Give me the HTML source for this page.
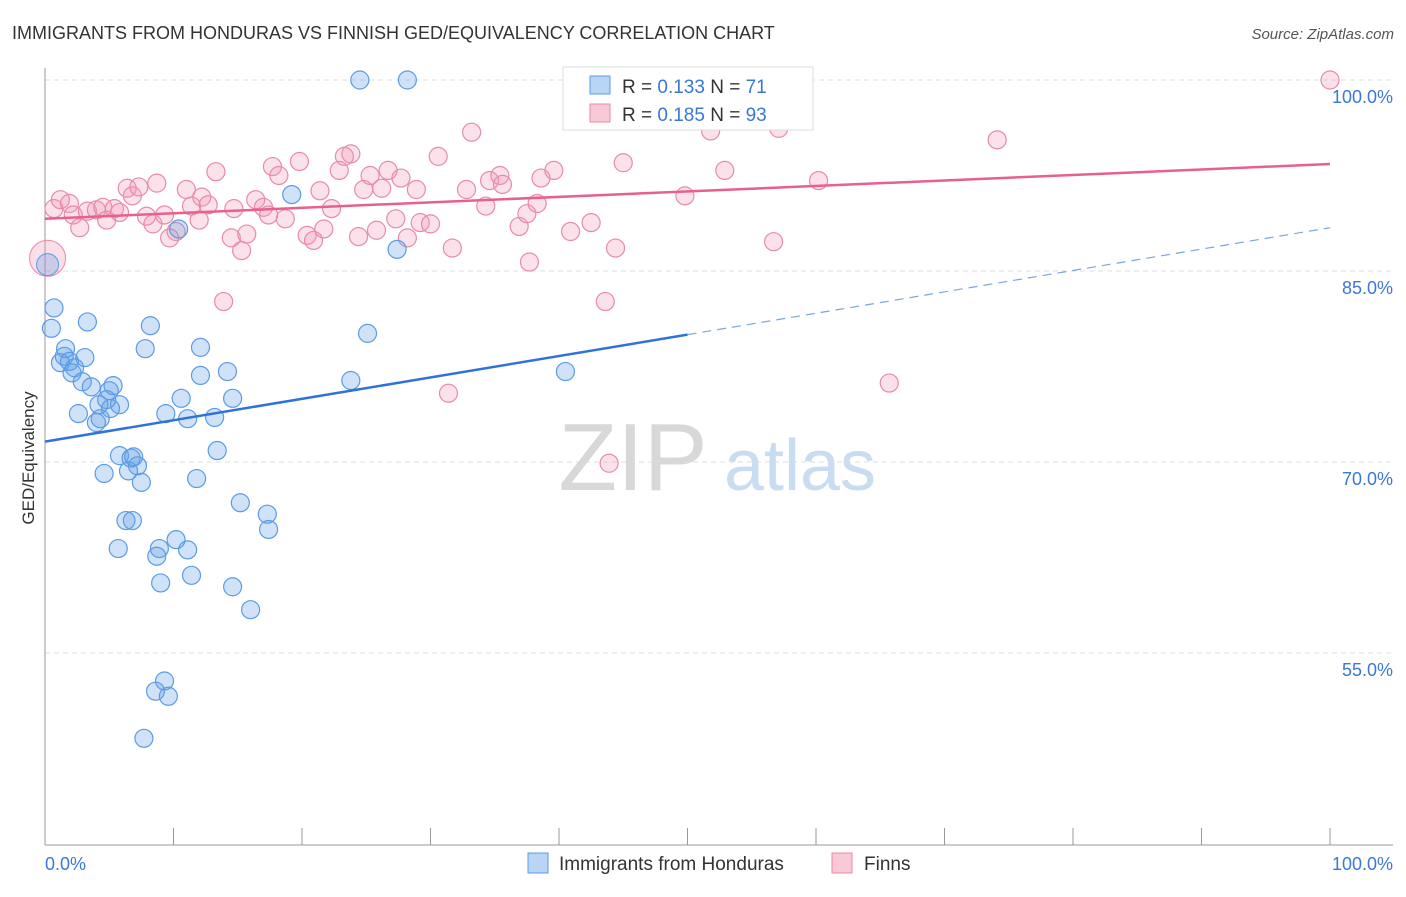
<!DOCTYPE html>
<html><head><meta charset="utf-8"><style>
body{margin:0;background:#fff;font-family:"Liberation Sans",sans-serif;}
svg text{font-family:"Liberation Sans",sans-serif;}
</style></head><body>
<svg id="c" width="1406" height="892" xmlns="http://www.w3.org/2000/svg">
<text x="12" y="39" font-size="18" fill="#333">IMMIGRANTS FROM HONDURAS VS FINNISH GED/EQUIVALENCY CORRELATION CHART</text>
<text x="1394" y="39" font-size="15" fill="#555" text-anchor="end" font-style="italic">Source: ZipAtlas.com</text>
<text x="0" y="0" transform="translate(34,458) rotate(-90)" font-size="17" fill="#333" text-anchor="middle">GED/Equivalency</text>
<g><text x="633" y="490" font-size="96" fill="#d8d8d8" text-anchor="middle" font-family="Liberation Serif">ZIP</text><text x="800" y="490" font-size="72" fill="#c8dcf2" text-anchor="middle">atlas</text></g>
<g id="grid"></g><g id="axes"></g><g id="pts"></g><g id="lines"></g>
<g>
<rect x="563" y="67" width="250" height="63" fill="#fff" stroke="#ddd"/>
<rect x="590" y="76" width="20" height="18" fill="#b9d4f5" stroke="#5b9be6"/>
<rect x="590" y="104" width="20" height="18" fill="#f9c9d8" stroke="#e88aa8"/>
<text x="622" y="93" font-size="19" fill="#333">R = <tspan fill="#3a78d8">0.133</tspan>   N = <tspan fill="#3a78d8">71</tspan></text>
<text x="622" y="121" font-size="19" fill="#333">R = <tspan fill="#3a78d8">0.185</tspan>   N = <tspan fill="#3a78d8">93</tspan></text>
</g>
<g>
<rect x="528" y="853" width="20" height="20" fill="#b9d4f5" stroke="#5b9be6"/>
<text x="559" y="870" font-size="19" fill="#333">Immigrants from Honduras</text>
<rect x="832" y="853" width="20" height="20" fill="#f9c9d8" stroke="#e88aa8"/>
<text x="864" y="870" font-size="19" fill="#333">Finns</text>
</g>
</svg>
<script>
const yTicks=[100,85,70,55];
const yTickLabels=["100.0%","85.0%","70.0%","55.0%"];
const xTickLabels=["0.0%","100.0%"];
const blueX=[24.5,28.2,19.2,10.4,27.4,0.7,0.5,3.3,8.2,25.1,7.8,12.1,1.6,3.1,1.5,1.2,1.9,2.3,2.1,14.2,12.1,23.8,40.5,2.9,3.6,5.3,5.0,10.6,14.6,4.8,5.8,4.2,5.1,9.4,2.6,11.1,13.2,4.3,4.0,13.4,5.8,6.7,6.9,7.2,6.5,4.6,11.8,7.5,15.2,17.3,6.3,6.8,17.4,10.2,8.9,11.1,5.7,8.7,11.4,9.0,14.6,16.0,9.3,8.6,9.6,7.7];
const blueY=[100,100,91.0,88.3,86.7,82.1,80.5,81.0,80.7,80.1,78.9,79.0,78.9,78.2,78.3,77.8,77.9,77.4,77.0,77.1,76.8,76.4,77.1,76.3,75.9,76.0,75.6,75.0,75.0,74.9,74.5,74.5,74.2,73.8,73.8,73.4,73.5,73.4,73.1,70.9,70.5,70.3,70.4,69.7,69.3,69.1,68.7,68.4,66.8,65.9,65.4,65.4,64.7,63.9,63.2,63.1,63.2,62.6,61.1,60.5,60.2,58.4,52.8,52.0,51.6,48.3];
const pinkX=[0.7,1.2,1.9,2.2,2.7,3.3,4.0,4.5,4.8,5.4,5.8,6.4,6.8,7.3,7.9,8.4,8.7,9.3,9.7,10.2,11.0,11.4,12.0,12.2,12.7,13.3,13.9,14.5,14.7,15.3,15.7,16.4,17.0,17.4,17.7,18.2,18.7,19.8,20.4,20.9,21.4,21.7,22.3,22.9,23.3,23.8,24.4,24.8,25.3,25.8,26.2,26.7,27.3,27.7,28.2,28.9,29.2,30.0,30.6,31.4,31.7,32.8,33.2,34.3,34.6,35.4,35.6,36.9,37.5,37.7,38.3,38.6,39.6,40.9,41.5,42.5,43.6,43.9,44.4,45.0,49.8,51.8,52.9,55.8,56.7,57.1,58.9,60.2,65.7,74.1,100];
const pinkY=[89.9,90.6,90.3,89.4,88.4,89.7,89.8,90.0,89.0,89.9,89.6,91.5,90.9,91.6,89.3,88.7,91.9,89.4,87.6,88.1,91.4,90.1,89.0,90.8,90.2,92.8,82.6,87.6,89.9,86.6,87.9,90.6,90.0,89.4,93.2,92.5,89.1,93.6,87.8,87.4,91.3,88.3,89.9,92.9,94.0,94.2,87.7,91.4,92.5,88.2,91.5,92.9,89.1,92.3,87.6,91.4,88.8,88.7,94.0,75.4,86.8,91.4,95.9,90.1,92.1,92.5,91.8,88.5,89.5,85.7,90.3,92.3,92.9,88.1,98.4,88.8,82.6,69.9,86.8,93.5,90.9,96.0,92.9,100,87.3,96.2,100,92.1,76.2,95.3,100];
const blueTrend=[71.6,88.4];
const pinkTrend=[89.1,93.4];
const NS="http://www.w3.org/2000/svg";
const sx=v=>45+v*12.85, sy=v=>80+(100-v)*12.733;
function mk(t,a,p){const e=document.createElementNS(NS,t);for(const k in a)e.setAttribute(k,a[k]);document.getElementById(p).appendChild(e);return e;}
yTicks.forEach((t,i)=>{
 const g=mk('line',{x1:45,x2:1393,y1:sy(t),y2:sy(t),stroke:'#ddd','stroke-dasharray':'5,4'},'grid');
 
 
 const l=mk('text',{x:1393,y:sy(t)+23,'font-size':18,fill:'#3a78d8','text-anchor':'end'},'grid');
 l.textContent=yTickLabels[i];
 
 
});
let ax=mk('line',{x1:45,x2:45,y1:68,y2:845,stroke:'#999'},'axes');


let bx=mk('line',{x1:45,x2:1393,y1:845,y2:845,stroke:'#999'},'axes');


for(let i=0;i<=10;i++){const t=mk('line',{x1:sx(i*10),x2:sx(i*10),y1:828,y2:845,stroke:'#999'},'axes');
 
 }
[[0,'start',45],[100,'end',1393]].forEach((d,i)=>{const t=mk('text',{x:d[2],y:870,'font-size':18,fill:'#3a78d8','text-anchor':d[1]},'axes');t.textContent=xTickLabels[i];
 
 });
function pts(X,Y,fill,stroke,name){X.forEach((x,i)=>{const c=mk('circle',{cx:sx(x),cy:sy(Y[i]),r:9,fill:fill,stroke:stroke,'stroke-width':1.2},'pts');
 
 });}
let big=mk('circle',{cx:sx(0.2),cy:sy(86.0),r:18,fill:'rgba(240,150,180,0.3)',stroke:'#e88aa8'},'pts');


let bigb=mk('circle',{cx:sx(0.2),cy:sy(85.5),r:11,fill:'rgba(100,160,230,0.3)',stroke:'#5b9be6'},'pts');


pts(pinkX,pinkY,'rgba(240,150,180,0.28)','#e88aa8','finns-point');
pts(blueX,blueY,'rgba(100,160,230,0.3)','#5b9be6','honduras-point');
const bl=x=>blueTrend[0]+(blueTrend[1]-blueTrend[0])*x/100, pl=x=>pinkTrend[0]+(pinkTrend[1]-pinkTrend[0])*x/100;
let l1=mk('line',{x1:sx(0),y1:sy(bl(0)),x2:sx(50),y2:sy(bl(50)),stroke:'#2f73d8','stroke-width':2.5},'lines');


let l2=mk('line',{x1:sx(50),y1:sy(bl(50)),x2:sx(100),y2:sy(bl(100)),stroke:'#7aa5e0','stroke-width':1.2,'stroke-dasharray':'9,6'},'lines');


let l3=mk('line',{x1:sx(0),y1:sy(pl(0)),x2:sx(100),y2:sy(pl(100)),stroke:'#e8608e','stroke-width':2.5},'lines');


</script>
</body></html>
